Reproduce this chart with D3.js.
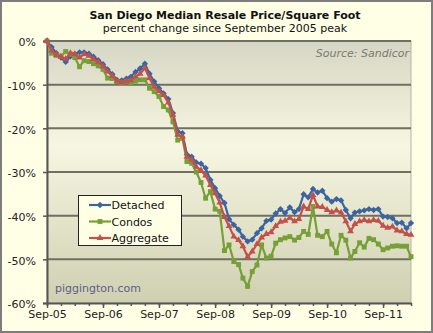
<!DOCTYPE html>
<html lang="en">
<head>
    <meta charset="UTF-8">
    <title>San Diego Median Resale Price/Square Foot</title>
    <script src="https://cdn.jsdelivr.net/npm/d3@7"></script>
    <style>
        body { margin: 0; background: #ffffe6; }
        svg text { font-family: "DejaVu Sans", Verdana, sans-serif; }
        .axis-label { font-size: 11px; fill: #222; }
    </style>
</head>
<body>
<svg id="chart" width="433" height="333"></svg>
<script>
    // monthly data, Sep 2005 .. Mar 2012, % change since Sep 2005 peak
    const firstMonth = new Date(2005, 8, 1);
    const lastMonth = new Date(2012, 2, 1);

    const detached = [
        0, -1.4, -2.8, -3.8, -4.8, -3.5, -3.0, -2.6, -2.6, -2.9, -3.6, -4.4,
        -5.3, -6.5, -7.6, -8.9, -9.0, -8.6, -8.2, -7.1, -6.3, -5.2, -7.5, -9.3,
        -10.8, -12.0, -13.3, -16.5, -20.7, -21.1, -26.0, -26.5, -27.8, -28.1, -29.1, -31.8,
        -33.7, -35.5, -37.1, -40.8, -42.1, -43.2, -44.8, -45.9, -45.5, -44.0, -42.9, -41.2,
        -40.9, -39.5, -38.5, -39.4, -38.1, -39.2, -38.5, -35.1, -35.8, -33.9, -34.7, -34.3,
        -36.0, -36.8, -36.2, -36.5, -38.7, -40.6, -39.3, -39.0, -38.8, -38.5, -38.7, -38.5,
        -40.2, -40.3, -40.6, -41.7, -41.6, -42.9, -41.7
    ];
    const condos = [
        0, -2.8, -3.3, -3.5, -2.4, -3.0, -3.8, -5.9, -4.5, -4.7, -5.2, -5.7,
        -6.5, -8.5, -8.6, -9.3, -9.6, -9.3, -9.7, -9.2, -8.9, -8.9, -10.8, -11.6,
        -12.7, -15.0, -15.8, -18.5, -22.7, -22.3, -27.6, -28.0, -30.0, -32.4, -36.0, -34.5,
        -38.5, -39.0, -48.0, -46.7, -50.5, -51.2, -54.3, -56.2, -52.8, -51.3, -46.7, -49.7,
        -49.3, -46.3, -45.5, -45.1, -44.8, -45.6, -45.0, -43.6, -44.3, -37.9, -44.5, -44.8,
        -43.6, -46.5, -48.5, -44.5, -45.6, -49.7, -48.2, -46.2, -47.2, -45.2, -45.5, -46.5,
        -47.8, -47.4, -47.0, -46.9, -47.0, -47.0, -49.4
    ];
    const aggregate = [
        0, -2.2, -3.2, -3.6, -4.1, -2.8, -3.0, -3.8, -3.0, -3.4, -4.2, -4.8,
        -5.8, -7.0, -8.0, -9.2, -9.5, -9.2, -9.0, -8.2, -7.5, -6.2, -8.5, -10.5,
        -11.5, -12.4, -14.1, -16.9, -21.5, -21.9, -26.5, -27.2, -28.8, -29.6, -30.8, -33.0,
        -34.9, -37.0, -40.3, -42.4, -44.8, -45.6, -47.0, -49.4, -48.2, -46.5, -45.0, -44.2,
        -43.8, -42.4, -41.4, -41.2, -40.5, -41.3, -40.8, -37.9, -38.5, -35.3, -37.9, -38.0,
        -38.7, -39.2, -38.8, -39.3, -41.3, -43.6, -41.9, -41.3, -41.0, -41.3, -41.0, -41.2,
        -42.3, -42.8, -42.5, -43.4, -43.6, -44.2, -44.4
    ];

    const seriesNames = ["Detached", "Condos", "Aggregate"];
    const seriesColors = ["#3a64a2", "#76a036", "#c4504b"];
    const yTicks = [0, -10, -20, -30, -40, -50, -60];

    const months = d3.timeMonth.range(firstMonth, d3.timeMonth.offset(lastMonth, 1));
    const series = [detached, condos, aggregate].map((vals, k) => ({
        name: seriesNames[k],
        color: seriesColors[k],
        points: vals.map((v, i) => ({ date: months[i], value: v }))
    }));

    // layout
    const plot = { left: 47, right: 411, top: 41, bottom: 303 };

    const svg = d3.select("#chart");

    // frame
    svg.append("rect")
        .attr("x", 1).attr("y", 1)
        .attr("width", 431).attr("height", 331)
        .attr("fill", "#ffffe6")
        .attr("stroke", "#7d7d7d")
        .attr("stroke-width", 2);

    const x = d3.scaleTime()
        .domain([firstMonth, lastMonth])
        .range([plot.left, plot.right]);

    const y = d3.scaleLinear()
        .domain([-60, 0])
        .range([plot.bottom, plot.top]);

    // plot area background
    const grad = svg.append("defs").append("linearGradient")
        .attr("id", "plotBg")
        .attr("x1", 0).attr("y1", 0).attr("x2", 0).attr("y2", 1);
    grad.append("stop").attr("offset", "0%").attr("stop-color", "#d6d6c4");
    grad.append("stop").attr("offset", "40%").attr("stop-color", "#f6f6e2");
    grad.append("stop").attr("offset", "100%").attr("stop-color", "#cfcfb1");

    svg.append("rect")
        .attr("x", plot.left).attr("y", plot.top)
        .attr("width", plot.right - plot.left)
        .attr("height", plot.bottom - plot.top)
        .attr("fill", "url(#plotBg)")
        .attr("stroke", "#b4b4a8")
        .attr("stroke-width", 1);

    // gridlines
    svg.append("g")
        .selectAll("line")
        .data(yTicks.slice(0, -1))
        .enter()
        .append("line")
        .attr("x1", plot.left).attr("x2", plot.right)
        .attr("y1", d => y(d)).attr("y2", d => y(d))
        .attr("stroke", "#6f6f62")
        .attr("stroke-width", 2);

    // y axis
    const yAxis = svg.append("g")
        .attr("transform", `translate(${plot.left},0)`)
        .call(d3.axisLeft(y).tickValues(yTicks).tickSize(4).tickPadding(7)
            .tickFormat(d => d + "%"));
    yAxis.select(".domain").attr("stroke", "#555").attr("stroke-width", 2);
    yAxis.selectAll(".tick line").attr("stroke", "#555").attr("stroke-width", 1.5);
    yAxis.selectAll("text").attr("class", "axis-label").attr("dy", "0.45em");

    // x axis: quarterly minor ticks, yearly labelled ticks
    const minor = svg.append("g")
        .attr("transform", `translate(0,${plot.bottom})`)
        .call(d3.axisBottom(x)
            .tickValues(d3.timeMonth.range(firstMonth, d3.timeMonth.offset(lastMonth, 1), 3))
            .tickSize(3).tickFormat(""));
    minor.select(".domain").remove();
    minor.selectAll(".tick line").attr("stroke", "#555").attr("stroke-width", 1.5);

    const xAxis = svg.append("g")
        .attr("transform", `translate(0,${plot.bottom})`)
        .call(d3.axisBottom(x)
            .tickValues(d3.timeMonth.range(firstMonth, lastMonth, 12))
            .tickSize(5).tickSizeOuter(0).tickPadding(2)
            .tickFormat(d3.timeFormat("%b-%y")));
    xAxis.select(".domain").attr("stroke", "#555").attr("stroke-width", 2);
    xAxis.selectAll(".tick line").attr("stroke", "#555").attr("stroke-width", 1.5);
    xAxis.selectAll("text").attr("class", "axis-label");

    // series
    const line = d3.line()
        .x(d => x(d.date))
        .y(d => y(d.value));

    const markers = [
        d3.symbol().type(d3.symbolSquare).size(20),
        d3.symbol().type(d3.symbolSquare).size(24),
        d3.symbol().type(d3.symbolTriangle).size(20)
    ];

    series.forEach((s, k) => {
        const g = svg.append("g");
        g.append("path")
            .datum(s.points)
            .attr("fill", "none")
            .attr("stroke", s.color)
            .attr("stroke-width", 2.2)
            .attr("stroke-linejoin", "round")
            .attr("d", line);
        g.selectAll("path.mk")
            .data(s.points)
            .enter()
            .append("path")
            .attr("class", "mk")
            .attr("d", markers[k])
            .attr("fill", s.color)
            .attr("transform", d => `translate(${x(d.date)},${y(d.value)})` + (k === 0 ? " rotate(45)" : ""));
    });

    // titles and notes
    svg.append("text")
        .attr("x", 225).attr("y", 19)
        .attr("text-anchor", "middle")
        .attr("font-size", 11).attr("font-weight", "bold")
        .attr("fill", "#111")
        .text("San Diego Median Resale Price/Square Foot");

    svg.append("text")
        .attr("x", 225).attr("y", 32)
        .attr("text-anchor", "middle")
        .attr("font-size", 11)
        .attr("fill", "#111")
        .text("percent change since September 2005 peak");

    svg.append("text")
        .attr("x", 409).attr("y", 57)
        .attr("text-anchor", "end")
        .attr("font-size", 11).attr("font-style", "italic")
        .attr("fill", "#7a7a72")
        .text("Source: Sandicor");

    svg.append("text")
        .attr("x", 55).attr("y", 291.5)
        .attr("font-size", 11)
        .attr("fill", "#5f5f8a")
        .text("piggington.com");

    // legend
    const legend = svg.append("g");
    legend.append("rect")
        .attr("x", 78.5).attr("y", 195.5)
        .attr("width", 103).attr("height", 50)
        .attr("fill", "#ffffe6")
        .attr("stroke", "#222")
        .attr("stroke-width", 1);

    series.forEach((s, k) => {
        const cy = 205 + k * 16.5;
        legend.append("line")
            .attr("x1", 89).attr("x2", 111)
            .attr("y1", cy).attr("y2", cy)
            .attr("stroke", s.color).attr("stroke-width", 2.2);
        legend.append("path")
            .attr("d", markers[k])
            .attr("fill", s.color)
            .attr("transform", `translate(100,${cy})` + (k === 0 ? " rotate(45)" : ""));
        legend.append("text")
            .attr("x", 111.5).attr("y", cy + 4)
            .attr("font-size", 11)
            .attr("fill", "#111")
            .text(s.name);
    });
</script>
</body>
</html>
